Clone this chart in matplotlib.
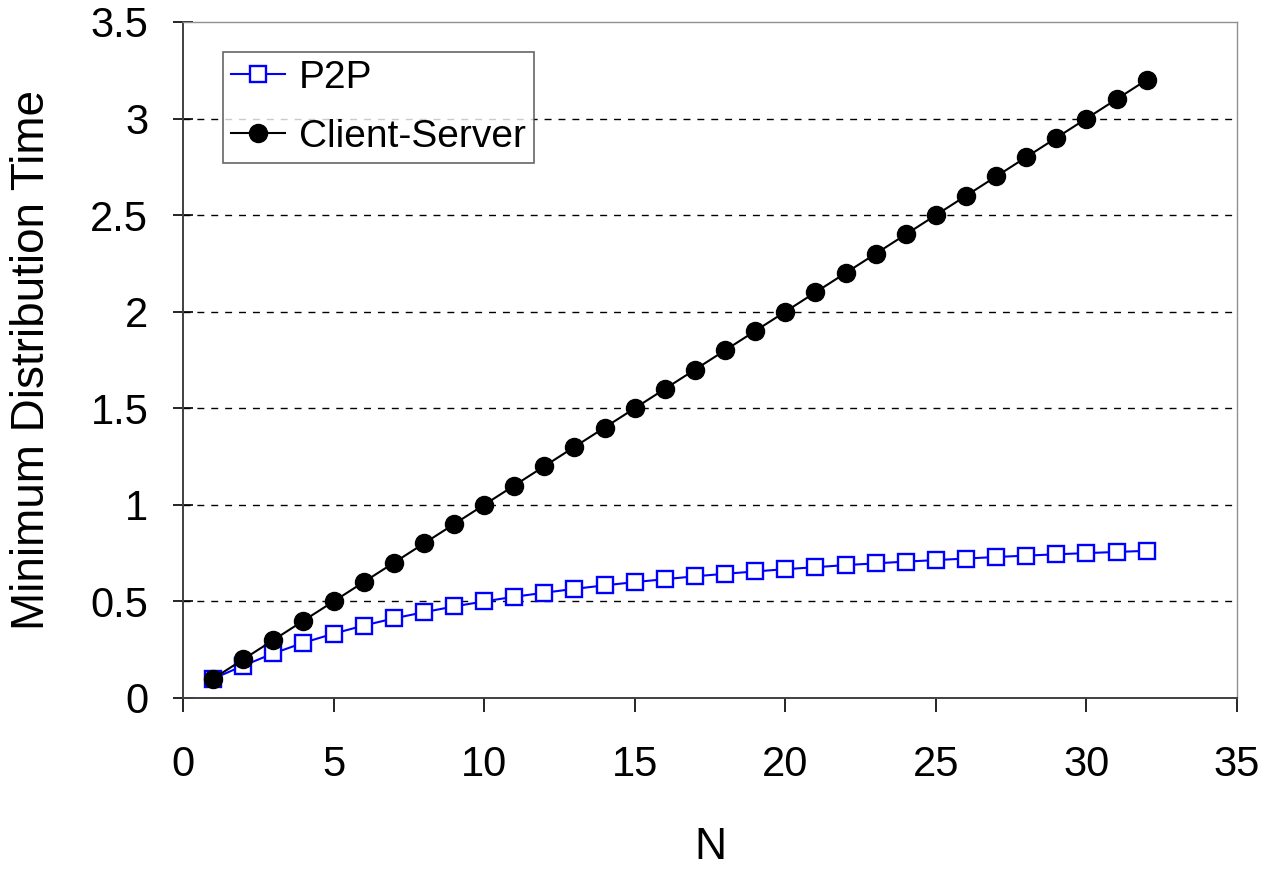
import matplotlib
matplotlib.use("Agg")
import matplotlib.pyplot as plt

plt.rcParams["font.family"] = ["Liberation Sans", "DejaVu Sans"]

n_peers = list(range(1, 33))
p2p = [0.100, 0.167, 0.231, 0.286, 0.333, 0.375, 0.412, 0.444, 0.474, 0.500,
       0.524, 0.545, 0.565, 0.583, 0.600, 0.615, 0.630, 0.643, 0.655, 0.667,
       0.677, 0.688, 0.697, 0.706, 0.714, 0.722, 0.730, 0.737, 0.744, 0.750,
       0.756, 0.762]
client_server = [0.1, 0.2, 0.3, 0.4, 0.5, 0.6, 0.7, 0.8, 0.9, 1.0,
                 1.1, 1.2, 1.3, 1.4, 1.5, 1.6, 1.7, 1.8, 1.9, 2.0,
                 2.1, 2.2, 2.3, 2.4, 2.5, 2.6, 2.7, 2.8, 2.9, 3.0,
                 3.1, 3.2]
yticks = [0, 0.5, 1, 1.5, 2, 2.5, 3, 3.5]
ytick_labels = ["0", "0.5", "1", "1.5", "2", "2.5", "3", "3.5"]
xticks = [0, 5, 10, 15, 20, 25, 30, 35]

fig = plt.figure(figsize=(12.63, 8.69), dpi=100)
ax = fig.add_axes([0.1449, 0.1968, 0.8345, 0.7779])

for y in yticks[1:-1]:
    ax.axhline(y, color="black", lw=1.0, ls=(0, (5, 5)), zorder=1)

ax.plot(n_peers, p2p, color="#0000ff", lw=1.5, marker="s", ms=12,
        mfc="white", mec="#0000ff", mew=1.7, label="P2P", zorder=3)
ax.plot(n_peers, client_server, color="black", lw=1.5, marker="o", ms=13,
        mfc="black", mec="black", label="Client-Server", zorder=4)

ax.set_xlim(0, 35)
ax.set_ylim(0, 3.5)
ax.set_xticks(xticks)
ax.set_yticks(yticks)
ax.set_yticklabels(ytick_labels)
ax.tick_params(axis="y", direction="inout", length=14, width=1.2, labelsize=30, pad=18)
ax.tick_params(axis="x", direction="out", length=10, width=1.2, labelsize=30, pad=24)

for side in ["top", "right"]:
    ax.spines[side].set_color("#909090")
    ax.spines[side].set_linewidth(1.0)
for side in ["left", "bottom"]:
    ax.spines[side].set_color("#404040")
    ax.spines[side].set_linewidth(1.4)

ax.set_xlabel("N", fontsize=32, labelpad=30)
ax.set_ylabel("Minimum Distribution Time", fontsize=33, labelpad=26)

leg = ax.legend(loc="upper left", bbox_to_anchor=(0.038, 0.956), fontsize=28,
                frameon=True, fancybox=False, edgecolor="#404040",
                handlelength=1.4, handletextpad=0.35, borderpad=0.2,
                labelspacing=0.6, borderaxespad=0)
leg.get_frame().set_linewidth(1.2)

fig.savefig("out.png", dpi=100)
